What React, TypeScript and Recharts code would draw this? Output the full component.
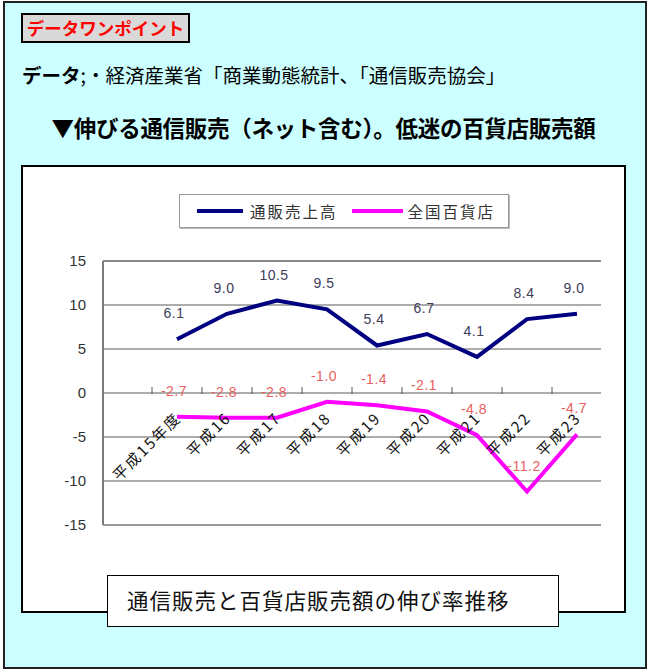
import React from "react";
import {
  LineChart,
  Line,
  XAxis,
  YAxis,
  CartesianGrid,
  ReferenceLine,
  LabelList,
} from "recharts";

// 年度
const categories = [
  "平成15年度",
  "平成16",
  "平成17",
  "平成18",
  "平成19",
  "平成20",
  "平成21",
  "平成22",
  "平成23",
];
// 通販売上高 伸び率(%)
const mailOrder = [6.1, 9.0, 10.5, 9.5, 5.4, 6.7, 4.1, 8.4, 9.0];
// 全国百貨店 伸び率(%)
const deptStore = [-2.7, -2.8, -2.8, -1.0, -1.4, -2.1, -4.8, -11.2, -4.7];

const seriesNames = ["通販売上高", "全国百貨店"];
const seriesColors = ["#000080", "#ff00ff"];
const labelColors = ["#3c3c5a", "#e86060"];
const yTicks = [-15, -10, -5, 0, 5, 10, 15];

const data = categories.map((name, i) => ({
  name,
  mail: mailOrder[i],
  dept: deptStore[i],
}));

const JP = '"Noto Sans CJK JP", sans-serif';
const NUM = '"Liberation Sans", Arial, sans-serif';

const W = 600;
const H = 440;
const X_AXIS_H = 10;
const M = { top: 93, right: 22, bottom: 83 - X_AXIS_H, left: 0 };
const Y_AXIS_W = 80;
const PAD = { left: 74, right: 24 };
const Y_MIN = -15;
const Y_MAX = 15;
const PLOT_H = H - M.top - M.bottom - X_AXIS_H;
const PLOT_W = W - M.left - M.right - Y_AXIS_W;
const zeroY = M.top + (Y_MAX / (Y_MAX - Y_MIN)) * PLOT_H;
const step = (PLOT_W - PAD.left - PAD.right) / (categories.length - 1);

const XTick = (props: any) => {
  const { x, payload } = props;
  return (
    <g>
      <line
        x1={x - step / 2}
        x2={x - step / 2}
        y1={zeroY - 6}
        y2={zeroY + 1}
        stroke="#555"
      />
      <g transform={`translate(${x + 5},${zeroY + 26}) rotate(-45)`}>
        <text
          x={0}
          y={0}
          textAnchor="end"
          fontSize={15}
          fontFamily={JP}
          fill="#111"
          letterSpacing={2}
        >
          {payload.value}
        </text>
      </g>
    </g>
  );
};

const makeLabel = (color: string) => (props: any) => {
  const { x, y, value } = props;
  return (
    <text
      x={x - 3}
      y={y - 21}
      textAnchor="middle"
      fontSize={14}
      fontFamily={NUM}
      fill={color}
      letterSpacing={0.5}
    >
      {Number(value).toFixed(1)}
    </text>
  );
};

export default function App() {
  return (
    <div
      style={{
        position: "absolute",
        left: 0,
        top: 0,
        width: 650,
        height: 670,
        background: "#fff",
        fontFamily: JP,
      }}
    >
      <div
        style={{
          position: "absolute",
          left: 3,
          top: 1,
          width: 644,
          height: 668,
          boxSizing: "border-box",
          border: "2px solid #222",
          background: "#ccffff",
        }}
      />
      <div
        style={{
          position: "absolute",
          left: 21,
          top: 13,
          width: 169,
          height: 30,
          boxSizing: "border-box",
          border: "2px solid #000",
          background: "#d9d9d9",
          color: "#ff0000",
          fontWeight: 700,
          fontSize: 17.5,
          lineHeight: "26px",
          textAlign: "center",
          whiteSpace: "nowrap",
        }}
      >
        データワンポイント
      </div>
      <div
        style={{
          position: "absolute",
          left: 22,
          top: 62,
          fontSize: 19.5,
          lineHeight: "26px",
          color: "#000",
          whiteSpace: "nowrap",
        }}
      >
        <b>データ</b>;・経済産業省「商業動態統計、「通信販売協会」
      </div>
      <div
        style={{
          position: "absolute",
          left: 0,
          width: 647,
          top: 112,
          fontSize: 22.5,
          fontWeight: 700,
          lineHeight: "30px",
          textAlign: "center",
          whiteSpace: "nowrap",
          letterSpacing: -0.3,
        }}
      >
        ▼伸びる通信販売（ネット含む）。低迷の百貨店販売額
      </div>

      <div
        style={{
          position: "absolute",
          left: 21,
          top: 165,
          width: 605,
          height: 448,
          boxSizing: "border-box",
          border: "2.5px solid #000",
          background: "#fff",
        }}
      />

      <div style={{ position: "absolute", left: 23, top: 168 }}>
        <LineChart width={W} height={H} data={data} margin={M}>
          <CartesianGrid
            yAxisId="l"
            vertical={false}
            stroke="#5a5a5a"
            strokeWidth={1}
          />
          <XAxis
            dataKey="name"
            type="category"
            scale="point"
            padding={PAD}
            axisLine={false}
            tickLine={false}
            interval={0}
            height={X_AXIS_H}
            tick={(p: any) => <XTick {...p} />}
          />
          <YAxis
            yAxisId="l"
            width={Y_AXIS_W}
            domain={[Y_MIN, Y_MAX]}
            ticks={yTicks}
            interval={0}
            tickLine={false}
            tickSize={0}
            tickMargin={17}
            axisLine={{ stroke: "#7a7a7a", strokeWidth: 2 }}
            tick={{ fill: "#333", fontSize: 15, fontFamily: NUM }}
          />
          <YAxis
            yAxisId="r"
            orientation="right"
            width={0}
            domain={[Y_MIN, Y_MAX]}
            tick={false}
            tickLine={false}
            axisLine={{ stroke: "#9a9a9a", strokeWidth: 2 }}
          />
          <ReferenceLine yAxisId="l" y={Y_MAX} stroke="#8a8a8a" strokeWidth={2} />
          <ReferenceLine yAxisId="l" y={Y_MIN} stroke="#9a9a9a" strokeWidth={2} />
          <Line
            yAxisId="l"
            dataKey="mail"
            name={seriesNames[0]}
            stroke={seriesColors[0]}
            strokeWidth={4}
            dot={false}
            isAnimationActive={false}
          >
            <LabelList dataKey="mail" content={makeLabel(labelColors[0])} />
          </Line>
          <Line
            yAxisId="l"
            dataKey="dept"
            name={seriesNames[1]}
            stroke={seriesColors[1]}
            strokeWidth={4}
            dot={false}
            isAnimationActive={false}
          >
            <LabelList dataKey="dept" content={makeLabel(labelColors[1])} />
          </Line>
        </LineChart>
      </div>

      <div
        style={{
          position: "absolute",
          left: 179,
          top: 194,
          width: 330,
          height: 34,
          boxSizing: "border-box",
          border: "1px solid #999",
          boxShadow: "1px 1px 0 #bbb",
          background: "#fff",
          display: "flex",
          alignItems: "center",
          paddingLeft: 17,
          fontSize: 15.5,
          color: "#333",
          letterSpacing: 2,
          whiteSpace: "nowrap",
        }}
      >
        <span
          style={{ width: 46, height: 4, background: seriesColors[0], marginRight: 7 }}
        />
        <span style={{ marginRight: 14 }}>{seriesNames[0]}</span>
        <span
          style={{ width: 51, height: 4, background: seriesColors[1], marginRight: 5 }}
        />
        <span>{seriesNames[1]}</span>
      </div>

      <div
        style={{
          position: "absolute",
          left: 107,
          top: 575,
          width: 452,
          height: 52,
          boxSizing: "border-box",
          border: "1.5px solid #000",
          background: "#fff",
          fontSize: 21.5,
          lineHeight: "48px",
          paddingLeft: 19,
          color: "#111",
          whiteSpace: "nowrap",
          letterSpacing: 1,
        }}
      >
        通信販売と百貨店販売額の伸び率推移
      </div>
    </div>
  );
}
